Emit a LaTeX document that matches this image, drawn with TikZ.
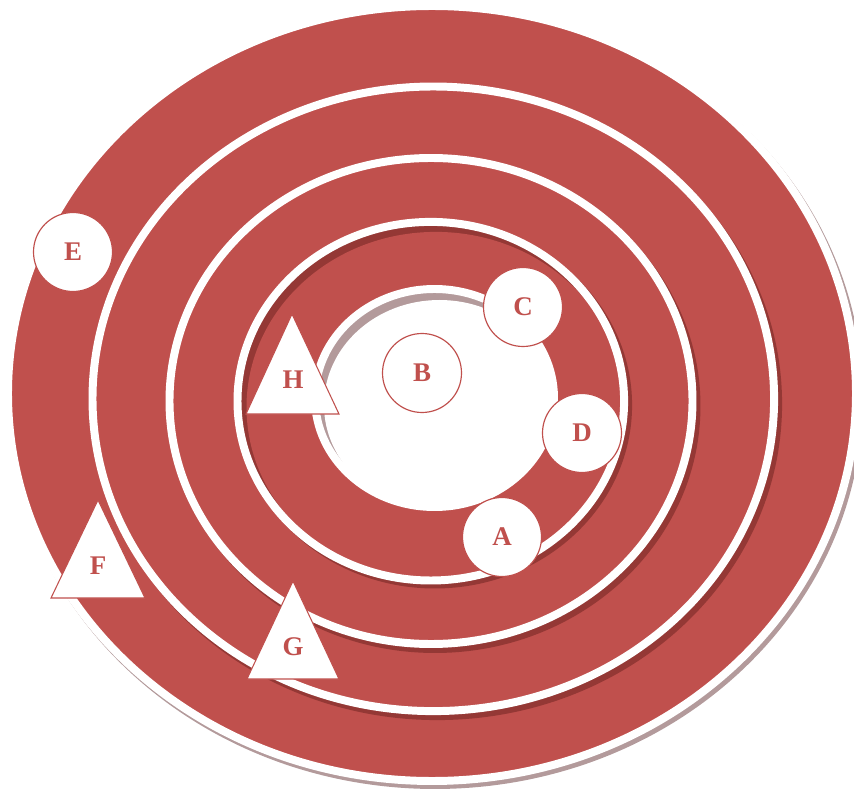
\documentclass[tikz,border=0pt]{standalone}
\usepackage{fontspec}
\setmainfont{Liberation Serif}
\definecolor{ringred}{HTML}{C0504D}
\definecolor{shadowred}{HTML}{943835}
\definecolor{shadowgray}{HTML}{B39A9B}
\begin{document}
\begin{tikzpicture}[
    x=0.03cm, y=-0.03cm,
    ring/.style={fill=ringred, draw=white, line width=6.8pt},
    ringshadow/.style={fill=#1, draw=#1, line width=6.8pt},
    gap/.style={draw=white, line width=6.8pt},
    spot/.style={circle, draw=ringred, line width=1pt, fill=white, minimum size=2.37cm, inner sep=0pt, text=ringred, font=\bfseries\fontsize{23}{23}\selectfont},
    tri/.style={draw=ringred, line width=0.9pt, fill=white, line join=miter},
    lbl/.style={text=ringred, inner sep=0pt, font=\bfseries\fontsize{23}{23}\selectfont}
]
\useasboundingbox (0,0) rectangle (854,789);

% Ringe
\filldraw[ringshadow=shadowgray, shift={(3,4)}] (432,393.5) ellipse [x radius=424, y radius=387.5];
\filldraw[ring] (432,393.5) ellipse [x radius=424, y radius=387.5];

\filldraw[ringshadow=shadowred, shift={(4,5)}] (433.3,398.8) ellipse [x radius=340.8, y radius=312.3];
\filldraw[ring] (433.3,398.8) ellipse [x radius=340.8, y radius=312.3];

\filldraw[ringshadow=shadowred, shift={(4,5)}] (431,401) ellipse [x radius=261.5, y radius=243];
\filldraw[ring] (431,401) ellipse [x radius=261.5, y radius=243];

\filldraw[ringshadow=shadowred, shift={(4,4)}] (430.8,401.2) ellipse [x radius=193.3, y radius=179.3];
\begin{scope}
  \clip (430.8,401.2) ellipse [x radius=193.3, y radius=179.3];
  \fill[shadowred] (430.8,401.2) ellipse [x radius=193.3, y radius=179.3];
  \fill[ringred] (435.8,407.2) ellipse [x radius=189.3, y radius=175.3];
\end{scope}
\draw[gap] (430.8,401.2) ellipse [x radius=193.3, y radius=179.3];

% Mitte
\begin{scope}
  \clip (434.5,398) ellipse [x radius=119.5, y radius=109];
  \fill[shadowgray] (434.5,398) ellipse [x radius=119.5, y radius=109];
  \fill[white] (439.5,405) ellipse [x radius=115.5, y radius=105];
\end{scope}
\draw[gap] (434.5,398) ellipse [x radius=119.5, y radius=109];

% Kreise
\node[spot] (B) at (422,373) {B};
\node[spot] (C) at (523,307) {C};
\node[spot] (D) at (582,433) {D};
\node[spot] (A) at (502,537) {A};
\node[spot] (E) at (73,252) {E};

% Dreiecke
\coordinate (Htop) at (292,314);
\draw[tri] (Htop) -- ++(-46,100) -- ++(93,0) -- cycle;
\node[lbl] (H) at (293,380) {H};

\coordinate (Ftop) at (98,500);
\draw[tri] (Ftop) -- ++(-47,98) -- ++(94,0) -- cycle;
\node[lbl] (F) at (98,566) {F};

\coordinate (Gtop) at (293,581);
\draw[tri] (Gtop) -- ++(-46,98) -- ++(92,0) -- cycle;
\node[lbl] (G) at (293,647) {G};

\end{tikzpicture}
\end{document}
